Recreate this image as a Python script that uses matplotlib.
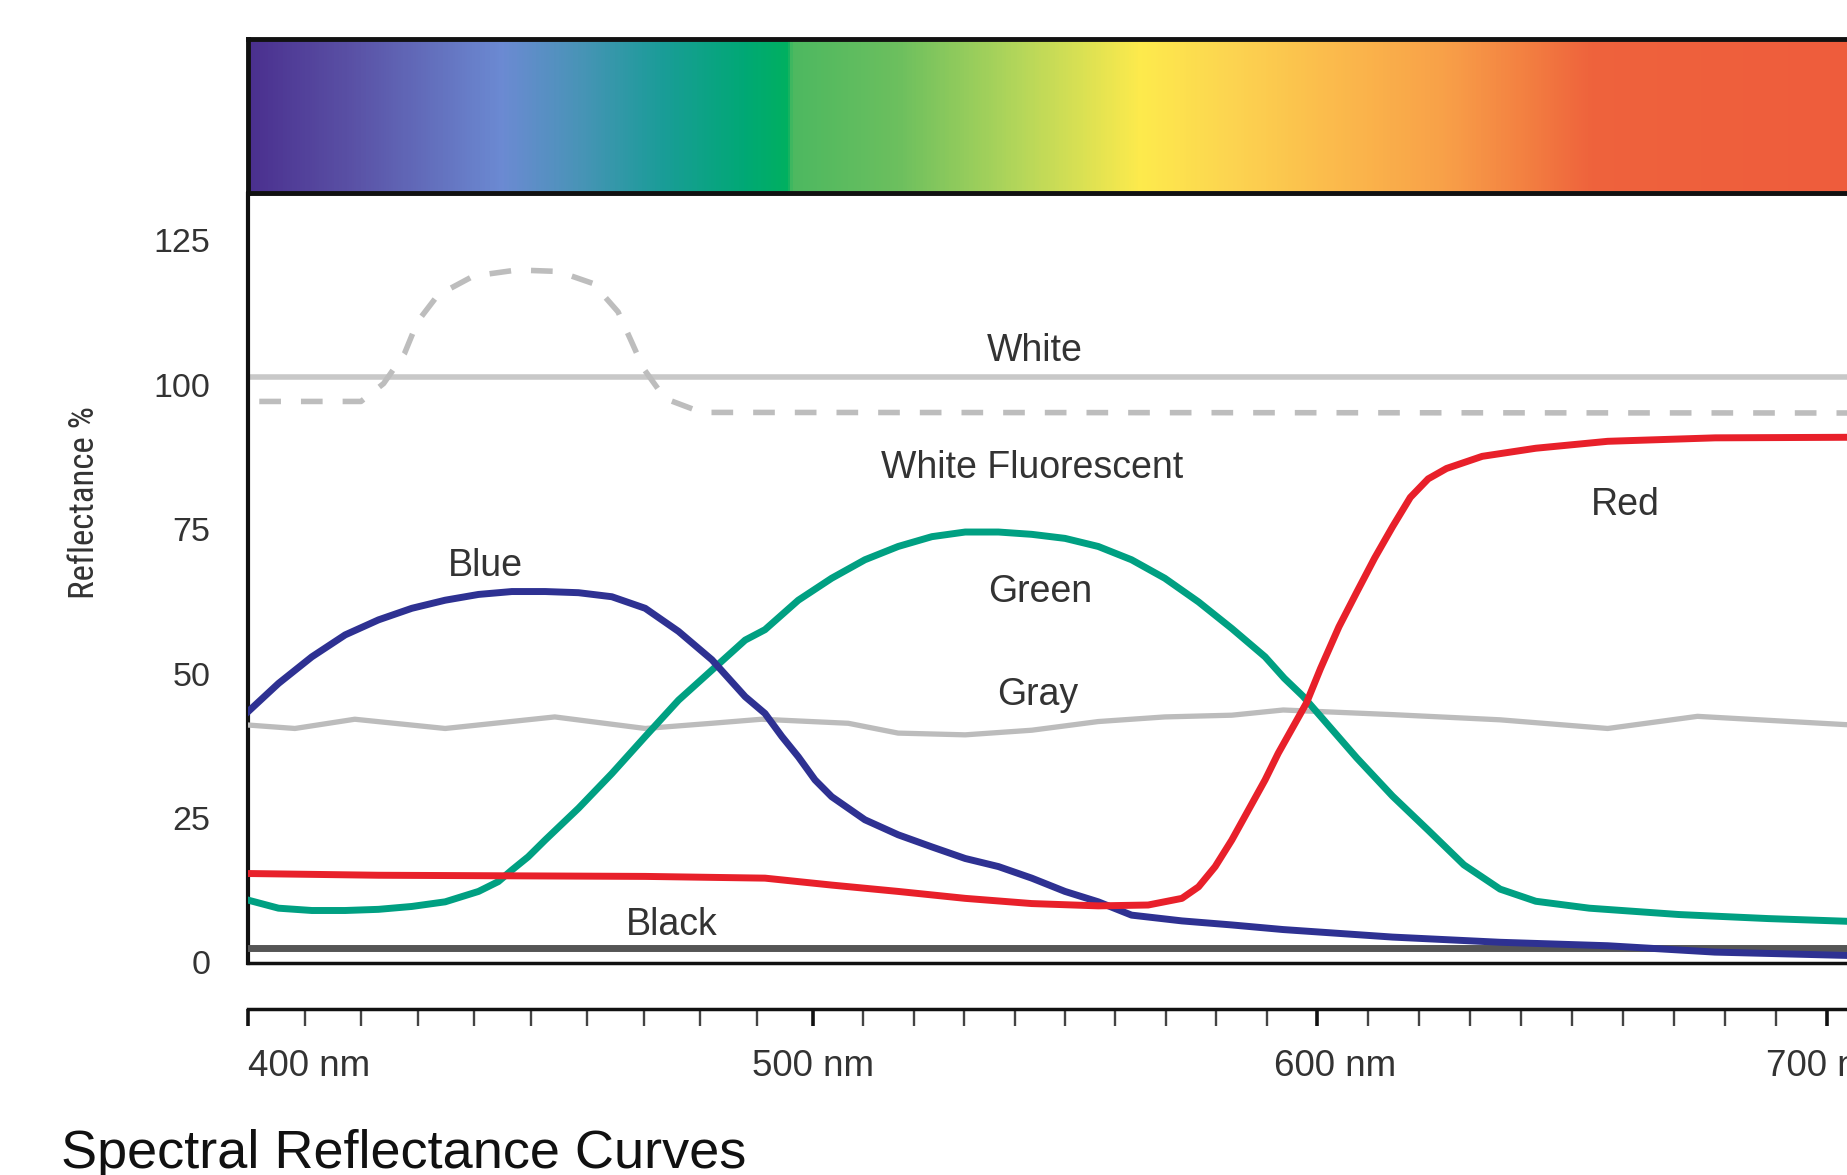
import numpy as np
import matplotlib
matplotlib.use('Agg')
import matplotlib.pyplot as plt
from matplotlib import font_manager as fm
from matplotlib.colors import LinearSegmentedColormap
from matplotlib.transforms import ScaledTranslation

# ---------------- data ----------------
blue_nm = [400, 405.4, 411.3, 417.2, 423.1, 429.0, 434.9, 440.8, 446.7, 452.6, 458.5, 464.4, 470.3, 476.2, 482.1,
           488.0, 491.5, 494.5, 497.4, 500.4, 503.7, 510.3, 516.9, 523.6, 530.2, 536.8, 543.4, 550.0, 556.6, 563.2,
           573.2, 583.1, 593.3, 614.8, 635.9, 657.0, 678.0, 705.0]
blue_pct = [43.4, 48.3, 52.9, 56.7, 59.3, 61.3, 62.7, 63.7, 64.2, 64.2, 64.0, 63.3, 61.3, 57.3, 52.4,
            46.0, 43.1, 39.1, 35.6, 31.6, 28.7, 24.7, 22.1, 20.0, 18.0, 16.6, 14.6, 12.3, 10.5, 8.2,
            7.2, 6.5, 5.7, 4.4, 3.5, 2.9, 1.8, 1.2]

green_nm = [400, 405.4, 411.3, 417.2, 423.1, 429.0, 434.9, 440.8, 444.3, 446.7, 449.6, 452.6, 458.5, 464.4, 470.3,
            476.2, 482.1, 488.0, 491.5, 497.4, 503.7, 510.3, 516.9, 523.6, 530.2, 536.8, 543.4, 550.0, 556.6, 563.2,
            569.8, 576.5, 583.1, 589.7, 593.5, 597.2, 600.7, 607.8, 614.8, 621.8, 628.8, 635.9, 642.9, 653.4, 671.0,
            688.5, 705.0]
green_pct = [10.8, 9.4, 9.0, 9.0, 9.2, 9.7, 10.5, 12.3, 14.0, 16.0, 18.3, 21.2, 26.7, 32.7, 39.1,
             45.4, 50.6, 55.8, 57.6, 62.7, 66.5, 69.7, 72.0, 73.7, 74.5, 74.5, 74.1, 73.4, 72.0, 69.7,
             66.5, 62.4, 57.8, 52.9, 49.2, 46.1, 42.6, 35.4, 28.8, 22.9, 16.9, 12.7, 10.6, 9.4, 8.3,
             7.6, 7.1]

red_nm = [400, 423.1, 446.7, 470.3, 491.5, 503.7, 516.9, 530.2, 543.4, 556.6, 566.5, 573.2, 576.5, 579.8, 583.1,
          586.4, 589.7, 592.3, 597.9, 600.7, 604.3, 607.8, 611.3, 614.8, 618.3, 621.8, 625.4, 632.4, 642.9, 657.0,
          678.1, 705.0]
red_pct = [15.4, 15.1, 15.0, 14.9, 14.6, 13.4, 12.3, 11.1, 10.2, 9.8, 9.95, 11.1, 13.1, 16.6, 21.2,
           26.4, 31.6, 36.2, 44.9, 50.9, 58.1, 64.1, 70.0, 75.4, 80.5, 83.7, 85.5, 87.6, 89.0, 90.2,
           90.8, 90.9]

gray_nm = [400, 408.3, 418.9, 434.9, 454.3, 470.3, 482.1, 490.9, 507.0, 516.9, 530.2, 543.4, 556.6, 569.8, 583.1,
           593.3, 614.8, 635.9, 657.0, 674.6, 705.0]
gray_pct = [41.1, 40.5, 42.1, 40.5, 42.5, 40.5, 41.4, 42.1, 41.4, 39.7, 39.4, 40.2, 41.7, 42.5, 42.8,
            43.7, 42.9, 42.0, 40.5, 42.6, 41.1]

white_nm = [400, 705]
white_pct = [101.4, 101.4]

fluor_nm = [402, 420, 424.0, 427.7, 430.0, 433.6, 439.9, 447.6, 454.9, 461.1, 465.5, 467.9, 470.0, 473.8, 480.3, 705]
fluor_pct = [97.1, 97.1, 100.2, 105.4, 110.9, 115.5, 118.8, 119.85, 119.6, 117.5, 112.6, 107.4, 102.8, 97.6, 95.2, 95.1]

black_nm = [400, 705]
black_pct = [2.5, 2.5]

label_text = ['White', 'White Fluorescent', 'Blue', 'Green', 'Gray', 'Red', 'Black']
label_nm = [544, 543.5, 442, 545, 544.5, 660.5, 475]
label_pct = [105.8, 85.6, 68.7, 64.2, 46.3, 79.1, 6.5]

y_ticks = [0, 25, 50, 75, 100, 125]
x_ticks = [400, 500, 600, 700]
x_tick_labels = ['400 nm', '500 nm', '600 nm', '700 nm']
x_minor = [v for v in range(400, 706, 10) if v % 100 != 0]

spec_nm = [400, 419, 445, 458, 473, 488, 495.4, 496.5, 517, 541, 565, 583, 601, 625, 642.5, 654, 705]
spec_col = ['#4a2f8e', '#5a52a6', '#6b8ad2', '#4a93b8', '#1a9c98', '#00a874', '#00b060', '#4db860',
            '#6cbf5e', '#b4d65a', '#fdea4c', '#fcd450', '#fbbd4c', '#f8a048', '#f27c40', '#ee623c', '#ee5c3c']

# ---------------- fonts ----------------
names = {f.name for f in fm.fontManager.ttflist}
base_font = 'Liberation Sans' if 'Liberation Sans' in names else 'DejaVu Sans'
plt.rcParams['font.family'] = [base_font, 'DejaVu Sans']

cond = None
for pref in ['Liberation Sans Narrow', 'Arial Narrow', 'Roboto Condensed', 'Open Sans Condensed', 'Noto Sans Condensed']:
    for f in fm.fontManager.ttflist:
        if f.name == pref and f.style == 'normal' and f.weight in (400, 'normal', 'regular'):
            cond = fm.FontProperties(fname=f.fname)
            break
    if cond is not None:
        break

TXT = '#333333'

# ---------------- ruler scale of the drawing ----------------
_bp_nm = [300, 400, 500, 600, 700, 800]
_bp_u = [-565, 0, 565, 1069, 1579, 2089]


def fwd(x):
    return np.interp(x, _bp_nm, _bp_u)


def inv(u):
    return np.interp(u, _bp_u, _bp_nm)


W_PX, H_PX = 1847, 1175
fig = plt.figure(figsize=(W_PX / 100, H_PX / 100), dpi=100)

left = 248 / W_PX
width = (fwd(705) - fwd(400)) / W_PX

# main plot
ax = fig.add_axes([left, (H_PX - 962.5) / H_PX, width, (962.5 - 194) / H_PX])
ax.set_xscale('function', functions=(fwd, inv))
ax.set_xlim(400, 705)
ax.set_ylim(0, 133)

ax.plot(white_nm, white_pct, color='#c8c8c8', lw=4, zorder=2)
ax.plot(fluor_nm, fluor_pct, color='#bdbdbd', lw=4, dashes=(3.9, 3.6), zorder=2)
ax.plot(gray_nm, gray_pct, color='#bcbcbc', lw=3.8, zorder=3, solid_joinstyle='round')
ax.plot(black_nm, black_pct, color='#555555', lw=5, zorder=3)
ax.plot(green_nm, green_pct, color='#00a082', lw=5, zorder=4, solid_joinstyle='round')
ax.plot(blue_nm, blue_pct, color='#2e3192', lw=5, zorder=5, solid_joinstyle='round')
ax.plot(red_nm, red_pct, color='#e8202a', lw=5, zorder=6, solid_joinstyle='round')

for t, xn, yp in zip(label_text, label_nm, label_pct):
    ax.text(xn, yp, t, fontsize=27, color=TXT, ha='center', va='center', zorder=7)

ax.set_yticks(y_ticks)
ax.set_yticklabels([str(v) for v in y_ticks])
ax.tick_params(axis='y', length=0, pad=27, labelsize=24.5, labelcolor=TXT)
ax.tick_params(axis='x', which='both', bottom=False, top=False, labelbottom=False)
ax.spines['right'].set_visible(False)
ax.spines['top'].set_color('#9a9a9a')
ax.spines['top'].set_linewidth(2)
ax.spines['left'].set_color('#111111')
ax.spines['left'].set_linewidth(3)
ax.spines['bottom'].set_color('#111111')
ax.spines['bottom'].set_linewidth(2.5)

ylab_kw = dict(transform=ax.transAxes, rotation=90, ha='center', va='center', color=TXT)
if cond is not None:
    ylab = ax.text(-0.1016, 0.598, 'Reflectance %', fontproperties=cond, **ylab_kw)
    ylab.set_fontsize(26)
else:
    ylab = ax.text(-0.1016, 0.598, 'Reflectance %', fontsize=22, **ylab_kw)
# fit the label to the length it has in the drawing (about 193 px)
renderer = fig.canvas.get_renderer()
ext = ylab.get_window_extent(renderer)
if ext.height > 0:
    ylab.set_fontsize(ylab.get_fontsize() * 193.0 / ext.height)

# spectrum bar
axc = fig.add_axes([left, (H_PX - 193) / H_PX, width, (193 - 39) / H_PX], sharex=ax)
pos = [(v - spec_nm[0]) / (spec_nm[-1] - spec_nm[0]) for v in spec_nm]
cmap = LinearSegmentedColormap.from_list('spec', list(zip(pos, spec_col)), N=1024)
edges = np.linspace(400, 705, 700)
centers = 0.5 * (edges[:-1] + edges[1:])
axc.pcolormesh(edges, [0, 1], centers[None, :], cmap=cmap, vmin=400, vmax=705, shading='flat')
axc.set_ylim(0, 1)
axc.set_yticks([])
axc.tick_params(axis='x', which='both', bottom=False, top=False, labelbottom=False)
for s in axc.spines.values():
    s.set_color('#111111')
    s.set_linewidth(3.5)

# ruler
axr = fig.add_axes([left, (H_PX - 1009) / H_PX, width, 0.0001], sharex=ax)
axr.patch.set_visible(False)
for s in ['left', 'right', 'top']:
    axr.spines[s].set_visible(False)
axr.spines['bottom'].set_color('#111111')
axr.spines['bottom'].set_linewidth(2.5)
axr.set_yticks([])
axr.set_xticks(x_ticks)
axr.set_xticklabels(x_tick_labels)
axr.set_xticks(x_minor, minor=True)
axr.tick_params(axis='x', which='major', direction='out', length=12, width=2.6, color='#111111',
                pad=17, labelsize=26.5, labelcolor=TXT)
axr.tick_params(axis='x', which='minor', direction='out', length=12, width=1.7, color='#444444')
tl = axr.get_xticklabels()
tl[0].set_ha('left')
tl[2].set_transform(tl[2].get_transform() + ScaledTranslation(0.18, 0, fig.dpi_scale_trans))

fig.text(0.033, 0.006, 'Spectral Reflectance Curves', fontsize=39, ha='left', va='baseline', color='#111111')

fig.savefig('out.png', dpi=100)
